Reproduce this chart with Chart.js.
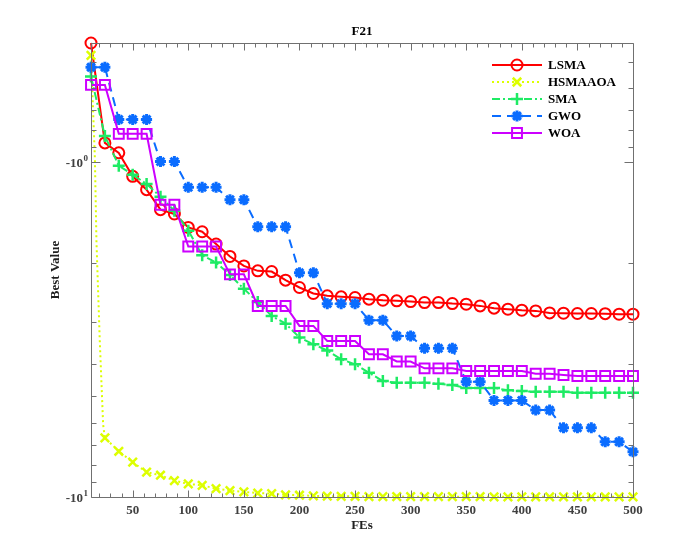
<!DOCTYPE html>
<html><head><meta charset="utf-8">
<script src="https://cdn.jsdelivr.net/npm/chart.js@4.4.0/dist/chart.umd.min.js"></script>
<style>html,body{margin:0;padding:0;background:#fff}#wrap{width:700px;height:560px;position:relative}</style>
</head><body><div id="wrap"><canvas id="c" width="700" height="560"></canvas></div>
<script>
// ---- data ----
const fes = [12.5,25,37.5,50,62.5,75,87.5,100,112.5,125,137.5,150,162.5,175,187.5,200,212.5,225,237.5,250,
             262.5,275,287.5,300,312.5,325,337.5,350,362.5,375,387.5,400,412.5,425,437.5,450,462.5,475,487.5,500];
const lsma = [-0.44,-0.875,-0.937,-1.101,-1.207,-1.385,-1.427,-1.565,-1.612,-1.755,-1.911,-2.039,-2.110,-2.120,-2.249,-2.366,-2.466,-2.506,-2.523,-2.535,
              -2.564,-2.582,-2.594,-2.606,-2.624,-2.624,-2.642,-2.654,-2.685,-2.728,-2.747,-2.766,-2.779,-2.818,-2.824,-2.830,-2.830,-2.832,-2.843,-2.843];
const hsmaaoa = [-0.479,-6.66,-7.30,-7.87,-8.43,-8.61,-8.93,-9.14,-9.23,-9.44,-9.57,-9.66,-9.73,-9.77,-9.85,-9.88,-9.92,-9.94,-9.95,-9.96,
                 -9.97,-9.97,-9.97,-9.98,-9.98,-9.98,-9.98,-9.98,-9.98,-9.99,-9.99,-9.99,-9.99,-9.99,-9.99,-9.99,-9.99,-9.99,-9.99,-9.99];
const hsmaaoaDropFEs  = [16, 17.4, 20.4, 23.4];
const hsmaaoaDropVals = [-0.97, -1.72, -3.42, -6.07];
const sma = [-0.554,-0.835,-1.023,-1.089,-1.161,-1.267,-1.395,-1.60,-1.896,-1.992,-2.17,-2.388,-2.612,-2.877,-3.034,-3.337,-3.497,-3.650,-3.876,-4.014,
             -4.254,-4.505,-4.558,-4.558,-4.558,-4.59,-4.63,-4.72,-4.72,-4.72,-4.80,-4.826,-4.85,-4.85,-4.85,-4.883,-4.883,-4.883,-4.883,-4.883];
const gwo = [-0.52,-0.52,-0.745,-0.745,-0.745,-0.995,-0.995,-1.188,-1.188,-1.188,-1.293,-1.293,-1.558,-1.558,-1.558,-2.138,-2.138,-2.644,-2.644,-2.644,
             -2.963,-2.963,-3.302,-3.302,-3.595,-3.595,-3.595,-4.525,-4.525,-5.145,-5.145,-5.145,-5.50,-5.50,-6.215,-6.215,-6.215,-6.84,-6.84,-7.33];
const woa = [-0.587,-0.587,-0.822,-0.822,-0.822,-1.339,-1.339,-1.784,-1.784,-1.784,-2.161,-2.161,-2.686,-2.686,-2.686,-3.082,-3.082,-3.419,-3.419,-3.419,
             -3.747,-3.747,-3.937,-3.937,-4.126,-4.126,-4.126,-4.204,-4.204,-4.204,-4.204,-4.204,-4.282,-4.282,-4.32,-4.351,-4.351,-4.351,-4.351,-4.351];
const seriesNames = ['LSMA','HSMAAOA','SMA','GWO','WOA'];
const xTickLabels = [50,100,150,200,250,300,350,400,450,500];
const yTickLabels = [-1,-10];
const chartTitle = 'F21';
const xTitle = 'FEs';
const yTitle = 'Best Value';

// ---- build datasets ----
function pts(vals){ return fes.map((f,i)=>({x:f, y:-vals[i], m:true})); }
let hsPts = pts(hsmaaoa);
const hsExtra = hsmaaoaDropFEs.map((f,i)=>({x:f, y:-hsmaaoaDropVals[i], m:false}));
hsPts = [hsPts[0], ...hsExtra, ...hsPts.slice(1)];

const styles = [
  {c:'#FF0000', dash:[], ps:'circle', r:5.5, pw:2},
  {c:'#DDFF00', dash:[2,3], ps:'crossRot', r:6, pw:2.5},
  {c:'#1EEB64', dash:[8,3,2,3], ps:'cross', r:6, pw:2.5},
  {c:'#0A6CFF', dash:[9,6], ps:'star', r:5.5, pw:3},
  {c:'#CC00FF', dash:[], ps:'rect', r:7, pw:2}
];
const allData = [pts(lsma), hsPts, pts(sma), pts(gwo), pts(woa)];
const datasets = allData.map((d,i)=>({
  label: seriesNames[i],
  data: d,
  borderColor: styles[i].c,
  backgroundColor: 'rgba(0,0,0,0)',
  borderWidth: 2,
  borderDash: styles[i].dash,
  pointStyle: styles[i].ps,
  pointRadius: ctx => (ctx.raw && ctx.raw.m) ? styles[i].r : 0,
  pointHoverRadius: 0,
  pointBorderWidth: styles[i].pw,
  pointBorderColor: styles[i].c,
  pointBackgroundColor: 'rgba(0,0,0,0)',
  tension: 0,
  clip: 10,
  order: 5 - i
}));

const SERIF = '"Liberation Serif","Times New Roman",serif';

const deco = {
  id: 'deco',
  afterDatasetsDraw(chart){
    const {ctx, chartArea:a, scales:{x, y}} = chart;
    ctx.save();
    ctx.setLineDash([]);
    ctx.strokeStyle = '#707070';
    ctx.lineWidth = 1;
    const L = Math.round(a.left)+0.5, R = Math.round(a.right)+0.5, T = Math.round(a.top)+0.5, B = Math.round(a.bottom)+0.5;
    ctx.beginPath();
    ctx.rect(L, T, R-L, B-T);
    // x ticks (inward, top and bottom)
    for (let v = 20; v <= 500; v += 10){
      const px = Math.round(x.getPixelForValue(v))+0.5;
      const len = (v % 50 === 0) ? 7 : 4;
      ctx.moveTo(px, B); ctx.lineTo(px, B-len);
      ctx.moveTo(px, T); ctx.lineTo(px, T+len);
    }
    // y ticks (log, inward, left and right)
    [0.1, 1].forEach(d => {
      for (let m = 1; m <= 9; m++){
        const v = m*d;
        if (v < y.min - 1e-9 || v > y.max + 1e-9) continue;
        const py = Math.round(y.getPixelForValue(v))+0.5;
        const len = (m === 1) ? 9 : 5;
        ctx.moveTo(L, py); ctx.lineTo(L+len, py);
        ctx.moveTo(R, py); ctx.lineTo(R-len, py);
      }
    });
    if (y.max >= 10){
      const py = Math.round(y.getPixelForValue(10))+0.5;
      ctx.moveTo(L, py); ctx.lineTo(L+9, py);
      ctx.moveTo(R, py); ctx.lineTo(R-9, py);
    }
    ctx.stroke();

    // y tick labels: -10^n
    yTickLabels.forEach(v => {
      const py = y.getPixelForValue(-v);
      const ex = String(Math.round(Math.log10(-v)));
      ctx.fillStyle = '#404040';
      ctx.textBaseline = 'alphabetic';
      ctx.font = 'bold 9px ' + SERIF;
      const ew = ctx.measureText(ex).width;
      const right = a.left - 3;
      ctx.textAlign = 'right';
      ctx.fillText(ex, right, py - 1);
      ctx.font = 'bold 13px ' + SERIF;
      ctx.fillText('-10', right - ew - 0.5, py + 5);
    });

    // title
    ctx.fillStyle = '#000';
    ctx.textAlign = 'center';
    ctx.textBaseline = 'middle';
    ctx.font = 'bold 13px ' + SERIF;
    ctx.fillText(chartTitle, (a.left + a.right)/2, 32);

    // legend
    const lx0 = 492, lx1 = 542, tx = 548, ly0 = 65, dy = 17;
    chart.data.datasets.forEach((ds, i) => {
      const st = styles[i];
      const yy = ly0 + i*dy;
      ctx.strokeStyle = st.c;
      ctx.lineWidth = 2;
      ctx.setLineDash(st.dash);
      ctx.beginPath(); ctx.moveTo(lx0, yy); ctx.lineTo(lx1, yy); ctx.stroke();
      ctx.setLineDash([]);
      ctx.strokeStyle = st.c;
      ctx.fillStyle = 'rgba(0,0,0,0)';
      ctx.lineWidth = st.pw;
      Chart.helpers.drawPoint(ctx, {pointStyle: st.ps, radius: st.r, rotation: 0, borderWidth: st.pw}, (lx0+lx1)/2, yy);
      ctx.fillStyle = '#000';
      ctx.textAlign = 'left';
      ctx.textBaseline = 'middle';
      ctx.font = 'bold 13px ' + SERIF;
      ctx.fillText(ds.label, tx, yy + 1);
    });
    ctx.restore();
  }
};

new Chart(document.getElementById('c'), {
  type: 'line',
  data: { datasets },
  options: {
    responsive: false,
    animation: false,
    events: [],
    layout: { padding: { left: 0, right: 67, top: 43, bottom: 0 } },
    plugins: { legend: {display:false}, tooltip: {enabled:false}, title: {display:false} },
    scales: {
      x: {
        type: 'linear', min: 12.5, max: 500,
        grid: { display: false, drawTicks: false },
        border: { display: false },
        afterBuildTicks: s => { s.ticks = xTickLabels.map(v => ({value: v})); },
        afterFit: s => { s.height = 63; },
        ticks: { padding: 6, color: '#404040', font: { family: SERIF, size: 13, weight: 'bold' }, autoSkip: false, maxRotation: 0 },
        title: { display: true, text: xTitle, color: '#202020', font: { family: SERIF, size: 13, weight: 'bold' }, padding: { top: 0, bottom: 27 } }
      },
      y: {
        type: 'logarithmic', min: 0.44, max: 10, reverse: true,
        grid: { display: false, drawTicks: false },
        border: { display: false },
        afterBuildTicks: s => { s.ticks = yTickLabels.map(v => ({value: -v})); },
        afterFit: s => { s.width = 91; },
        ticks: { display: false },
        title: { display: true, text: yTitle, color: '#202020', font: { family: SERIF, size: 13, weight: 'bold' }, padding: { top: 48, bottom: 0 } }
      }
    }
  },
  plugins: [deco]
});
</script>
</body></html>
